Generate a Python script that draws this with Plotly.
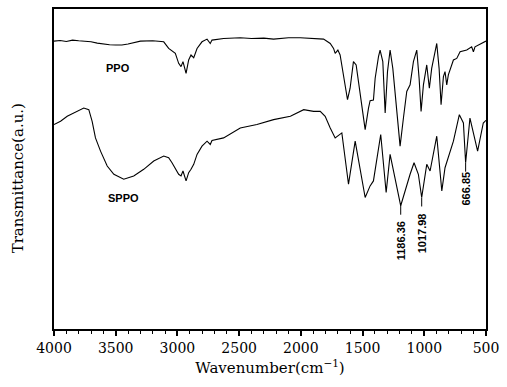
import plotly.graph_objects as go

# PPO spectrum (wavenumber cm-1, transmittance a.u.)
ppo_wn = [4000, 3950, 3900, 3850, 3800, 3750, 3700, 3650, 3600, 3550, 3500, 3450, 3400, 3350, 3300,
          3200, 3150, 3111, 3071, 3044, 3017, 2990, 2971, 2955, 2930, 2909, 2890, 2868, 2841, 2801,
          2760, 2734, 2720, 2626, 2491, 2400, 2300, 2221, 2100, 2005, 1900, 1816, 1762, 1735, 1722,
          1700, 1682, 1655, 1622, 1601, 1574, 1552, 1520, 1479, 1452, 1439, 1412, 1398, 1371, 1358,
          1336, 1317, 1298, 1277, 1255, 1223, 1196, 1169, 1142, 1115, 1088, 1061, 1042, 1026, 1007,
          980, 959, 940, 899, 880, 864, 845, 832, 818, 805, 764, 737, 710, 656, 616, 602, 589, 562,
          522, 500]
ppo_t = [289.7, 290.3, 289.3, 290.7, 290.0, 289.7, 289.0, 287.7, 286.7, 286.0, 285.7, 285.7, 286.7, 288.3, 289.7,
         290.0, 289.7, 289.0, 282.3, 279.7, 277.3, 267.3, 264.0, 269.0, 257.3, 270.7, 275.7, 273.0, 282.3, 289.0,
         291.7, 287.3, 290.7, 292.3, 293.0, 292.3, 292.7, 291.7, 293.0, 293.0, 292.3, 291.7, 287.3, 282.3, 277.3,
         280.7, 275.7, 255.7, 230.7, 242.3, 269.0, 265.7, 235.7, 200.7, 222.3, 229.7, 230.3, 252.3, 274.0, 280.7,
         269.0, 217.3, 259.0, 280.7, 262.3, 219.0, 184.0, 212.3, 239.0, 245.7, 269.0, 280.7, 252.3, 219.0, 245.7,
         265.7, 242.3, 262.3, 287.3, 262.3, 225.7, 254.0, 259.0, 245.7, 255.7, 270.7, 272.3, 279.0, 280.7, 284.0, 279.0, 284.0, 285.7,
         289.0, 289.7]

# SPPO spectrum
sppo_wn = [4000, 3947, 3893, 3840, 3759, 3718, 3691, 3664, 3623, 3569, 3515, 3435, 3354, 3273, 3192,
           3111, 3071, 3044, 3017, 2990, 2971, 2955, 2930, 2909, 2890, 2868, 2841, 2801, 2760, 2734,
           2720, 2626, 2491, 2356, 2221, 2085, 1977, 1897, 1843, 1803, 1762, 1722, 1668, 1614, 1560,
           1479, 1439, 1412, 1353, 1309, 1277, 1237, 1191, 1115, 1083, 1048, 1021, 980, 953, 899,
           858, 832, 764, 716, 683, 665, 630, 568, 522, 500]
sppo_t = [205.7, 209.0, 214.0, 217.3, 222.3, 220.7, 209.0, 192.3, 179.0, 164.0, 155.7, 150.7, 154.0, 160.7, 169.0,
          174.0, 172.3, 167.3, 160.7, 155.7, 154.0, 159.0, 149.0, 157.3, 160.7, 165.7, 175.7, 184.0, 189.0, 185.7,
          189.7, 192.3, 202.3, 205.7, 210.7, 214.0, 220.7, 219.0, 219.0, 214.0, 202.3, 192.3, 197.3, 145.7, 189.0,
          132.3, 144.0, 149.0, 195.7, 137.3, 175.7, 152.3, 124.0, 155.7, 167.3, 155.7, 132.3, 165.7, 159.0, 194.0,
          139.0, 162.3, 189.0, 215.7, 207.3, 167.3, 212.3, 179.0, 207.3, 210.0]

# peak labels (SPPO)
peak_wn = [1191, 1021, 665]
peak_t = [124.0, 132.3, 167.3]
peak_text = ["1186.36", "1017.98", "666.85"]
peak_label_t = [89, 96, 141]

series_labels = ["PPO", "SPPO"]
series_label_wn = [3478, 3438]
series_label_t = [263, 132]

x_ticks = [4000, 3500, 3000, 2500, 2000, 1500, 1000, 500]

fig = go.Figure()
fig.add_trace(go.Scatter(x=ppo_wn, y=ppo_t, mode="lines", line=dict(color="black", width=1.1), showlegend=False))
fig.add_trace(go.Scatter(x=sppo_wn, y=sppo_t, mode="lines", line=dict(color="black", width=1.1), showlegend=False))

for wn, t in zip(peak_wn, peak_t):
    fig.add_trace(go.Scatter(x=[wn, wn], y=[t, t - 9], mode="lines",
                             line=dict(color="black", width=1), showlegend=False))

for wn, txt, lt in zip(peak_wn, peak_text, peak_label_t):
    fig.add_annotation(x=wn, y=lt, text="<b>" + txt + "</b>", textangle=-90, showarrow=False,
                       font=dict(family="Liberation Sans, Arial, sans-serif", size=11, color="black"),
                       xanchor="center", yanchor="middle")

for txt, wn, t in zip(series_labels, series_label_wn, series_label_t):
    fig.add_annotation(x=wn, y=t, text="<b>" + txt + "</b>", showarrow=False,
                       font=dict(family="Liberation Sans, Arial, sans-serif", size=11, color="black"),
                       xanchor="center", yanchor="middle")

fig.add_annotation(xref="paper", yref="paper", x=-0.084, y=0.47, text="Transmittance(a.u.)",
                   textangle=-90, showarrow=False, xanchor="center", yanchor="middle",
                   font=dict(family="DejaVu Serif", size=15, color="black"))

fig.update_layout(
    width=507, height=387,
    margin=dict(l=53.5, r=21, t=7, b=58),
    paper_bgcolor="white", plot_bgcolor="white",
    font=dict(family="DejaVu Serif", size=14, color="black"),
    xaxis=dict(range=[4000, 500], tickvals=x_ticks, ticktext=[str(v) for v in x_ticks],
               ticks="outside", ticklen=5, tickwidth=1.5, tickcolor="black",
               minor=dict(dtick=100, ticks="outside", ticklen=3, tickwidth=1.2, tickcolor="black"),
               showline=True, linecolor="black", linewidth=2, mirror=True, showgrid=False, zeroline=False,
               title=dict(text="Wavenumber(cm<sup>−1</sup>)", standoff=8,
                          font=dict(family="DejaVu Serif", size=15)),
               tickfont=dict(family="DejaVu Serif", size=14)),
    yaxis=dict(range=[0, 322], showticklabels=False, ticks="", showline=True, linecolor="black",
               linewidth=2, mirror=True, showgrid=False, zeroline=False),
)

fig.write_html("out.html", config={"displayModeBar": False},
               post_script="document.body.style.margin='0px';document.body.style.padding='0px';")
